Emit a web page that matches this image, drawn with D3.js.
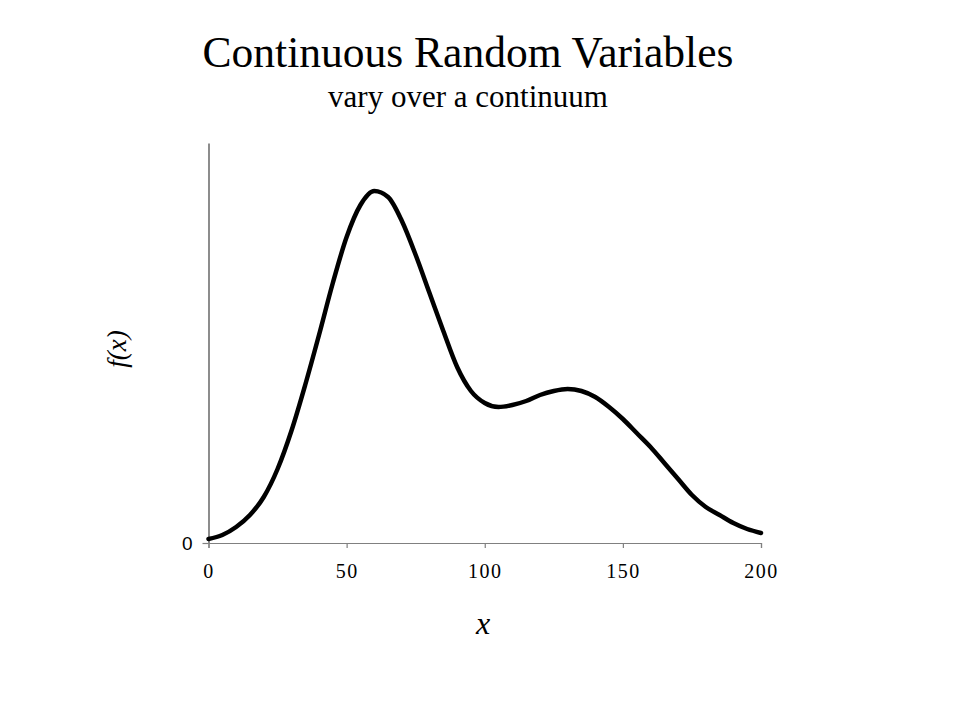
<!DOCTYPE html>
<html>
<head>
<meta charset="utf-8">
<script src="https://cdn.jsdelivr.net/npm/d3@7"></script>
<style>
  html, body { margin: 0; padding: 0; background: #fff; }
  svg { display: block; }
</style>
</head>
<body>
<svg id="chart" width="960" height="720"></svg>
<script>
// Data
const xValues = [0,5,10,15,20,25,30,35,40,45,50,55,60,65,70,75,80,85,90,95,100,
                 105,110,115,120,125,130,135,140,145,150,155,160,165,170,175,180,185,190,195,200];
const densityValues = [0.0002,0.0004,0.0008,0.0014,0.0023,0.0037,0.0056,0.0079,0.0104,0.0130,0.0153,
                       0.0169,0.0176,0.0173,0.0161,0.0144,0.0125,0.0106,0.0088,0.0076,0.0070,
                       0.0068,0.0069,0.0071,0.0074,0.0076,0.0077,0.0076,0.0073,0.0068,0.0062,
                       0.0055,0.0048,0.0040,0.0032,0.0024,0.0018,0.0014,0.0010,0.0007,0.0005];
const xTicks = [0, 50, 100, 150, 200];
const yTicks = [0];
const titleText = "Continuous Random Variables";
const subtitleText = "vary over a continuum";

const svg = d3.select("#chart");
const margin = { left: 208.5, right: 761, top: 143, bottom: 543 };

const x = d3.scaleLinear().domain([0, 200]).range([margin.left, margin.right]);
const y = d3.scaleLinear().domain([0, 0.02]).range([margin.bottom, margin.top]);

// Title
svg.append("text").attr("x", 468).attr("y", 67).attr("text-anchor", "middle")
  .attr("font-family", "'Liberation Serif', 'Times New Roman', serif")
  .attr("font-size", 43.5).attr("fill", "#000").text(titleText);
svg.append("text").attr("x", 468).attr("y", 107).attr("text-anchor", "middle")
  .attr("font-family", "'Liberation Serif', 'Times New Roman', serif")
  .attr("font-size", 31).attr("fill", "#000").text(subtitleText);

// X axis
const xAxis = d3.axisBottom(x).tickValues(xTicks).tickSize(5).tickSizeOuter(5).tickPadding(16);
const gx = svg.append("g").attr("transform", `translate(0,${margin.bottom})`).call(xAxis);
gx.select(".domain").attr("stroke", "#808080").attr("stroke-width", 1.2);
gx.selectAll(".tick line").attr("stroke", "#808080").attr("stroke-width", 1.2);
gx.selectAll(".tick text").attr("font-family", "'Liberation Serif', 'Times New Roman', serif")
  .attr("font-size", 20).attr("letter-spacing", 1.5).attr("fill", "#000");

// Y axis
const yAxis = d3.axisLeft(y).tickValues(yTicks).tickSize(6).tickSizeOuter(0).tickPadding(10)
  .tickFormat(d3.format("d"));
const gy = svg.append("g").attr("transform", `translate(${margin.left},0)`).call(yAxis);
gy.select(".domain").attr("stroke", "#808080").attr("stroke-width", 1.8);
gy.selectAll(".tick line").attr("stroke", "#808080").attr("stroke-width", 1.2);
gy.selectAll(".tick text").attr("font-family", "'Liberation Sans', Arial, sans-serif")
  .attr("font-size", 19).attr("fill", "#000");

// Curve
const line = d3.line()
  .x((d, i) => x(xValues[i]))
  .y(d => y(d))
  .curve(d3.curveMonotoneX);
svg.append("path").datum(densityValues)
  .attr("d", line).attr("fill", "none").attr("stroke", "#000")
  .attr("stroke-width", 4.5).attr("stroke-linejoin", "round").attr("stroke-linecap", "round");

// Axis labels
svg.append("text").attr("transform", "translate(126,349) rotate(-90)")
  .attr("text-anchor", "middle")
  .attr("font-family", "'Liberation Serif', 'Times New Roman', serif")
  .attr("font-style", "italic").attr("font-size", 27).attr("fill", "#000").text("f(x)");
svg.append("text").attr("x", 483).attr("y", 634).attr("text-anchor", "middle")
  .attr("font-family", "'Liberation Serif', 'Times New Roman', serif")
  .attr("font-style", "italic").attr("font-size", 32).attr("fill", "#000").text("x");
</script>
</body>
</html>
